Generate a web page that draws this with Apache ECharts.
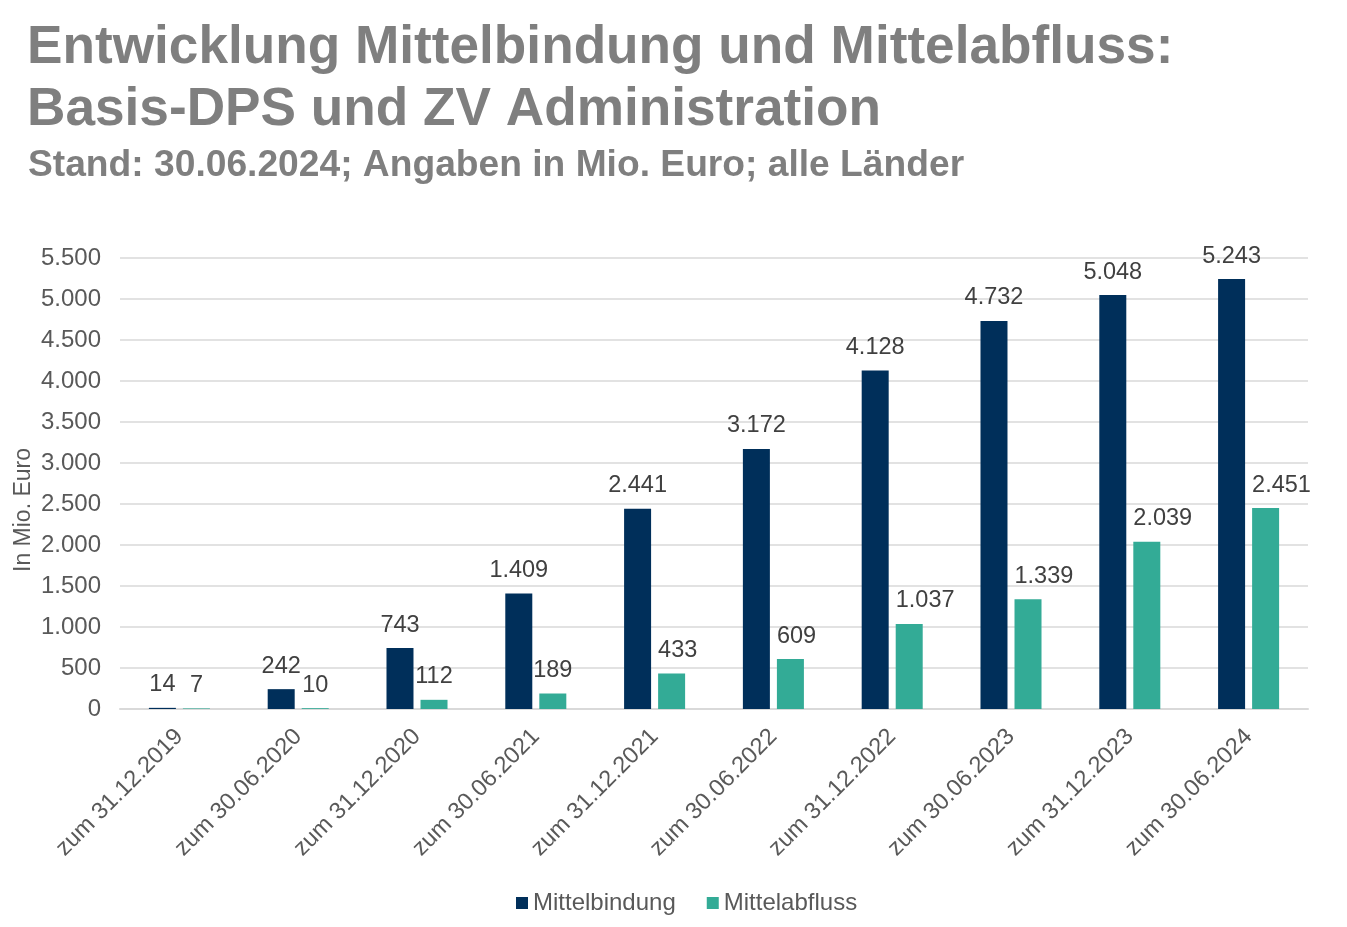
<!DOCTYPE html>
<html><head><meta charset="utf-8">
<script src="https://cdn.jsdelivr.net/npm/echarts@6/dist/echarts.min.js"></script>
<style>html,body{margin:0;padding:0;background:#fff}#c{width:1347px;height:927px}</style>
</head><body><div id="c"></div>
<script>
const categories = ["zum 31.12.2019","zum 30.06.2020","zum 31.12.2020","zum 30.06.2021","zum 31.12.2021","zum 30.06.2022","zum 31.12.2022","zum 30.06.2023","zum 31.12.2023","zum 30.06.2024"];
const mittelbindung = [14, 242, 743, 1409, 2441, 3172, 4128, 4732, 5048, 5243];
const mittelabfluss = [7, 10, 112, 189, 433, 609, 1037, 1339, 2039, 2451];
const seriesNames = ["Mittelbindung", "Mittelabfluss"];
const titleLines = ["Entwicklung Mittelbindung und Mittelabfluss:", "Basis-DPS und ZV Administration"];
const subtitle = "Stand: 30.06.2024; Angaben in Mio. Euro; alle Länder";
const yAxisName = "In Mio. Euro";

const fmt = v => String(v).replace(/\B(?=(\d{3})+(?!\d))/g, ".");
const font = "Liberation Sans, Arial, sans-serif";
const chart = echarts.init(document.getElementById('c'));
const labelCfg = {show: true, position: 'top', distance: 11, color: '#404040', fontSize: 23.5, fontFamily: font, formatter: p => fmt(p.value)};
// in the reference, Mittelabfluss labels from the 5th category on are left-aligned to their bar
const leftAlignedFrom = 4;
const abflussData = mittelabfluss.map((v, i) => i >= leftAlignedFrom
  ? {value: v, label: {align: 'left', offset: [-13.5, 0]}}
  : v);
chart.setOption({
  backgroundColor: '#fff',
  animation: false,
  title: [
    {text: titleLines.join('\n'), left: 22, top: 12, textStyle: {color: '#7f7f7f', fontSize: 53.2, fontWeight: 'bold', fontFamily: font, lineHeight: 62}},
    {text: subtitle, left: 23, top: 142, textStyle: {color: '#7f7f7f', fontSize: 37.2, fontWeight: 'bold', fontFamily: font}}
  ],
  graphic: [{type: 'text', x: 24, y: 510, rotation: Math.PI/2, style: {text: yAxisName, fill: '#595959', fontSize: 23, fontFamily: font, textAlign: 'center', textVerticalAlign: 'middle'}}],
  legend: {bottom: 7, left: 511, itemWidth: 12, itemHeight: 12, itemGap: 31, icon: 'rect', textStyle: {color: '#595959', fontSize: 24, fontFamily: font}, data: seriesNames},
  grid: {left: 120, right: 39, top: 258, bottom: 218, containLabel: false},
  xAxis: {type: 'category', data: categories,
    axisLine: {lineStyle: {color: '#d9d9d9', width: 2}}, axisTick: {show: false},
    axisLabel: {rotate: 45, color: '#595959', fontSize: 23.5, fontFamily: font, margin: 24, interval: 0}},
  yAxis: {type: 'value', min: 0, max: 5500, interval: 500,
    axisLine: {show: false}, axisTick: {show: false},
    splitLine: {lineStyle: {color: '#d9d9d9', width: 1.5}},
    axisLabel: {color: '#595959', fontSize: 24, fontFamily: font, margin: 19, formatter: fmt}},
  series: [
    {name: seriesNames[0], type: 'bar', data: mittelbindung, barWidth: 27, barGap: '26%', itemStyle: {color: '#002F5A'}, label: labelCfg},
    {name: seriesNames[1], type: 'bar', data: abflussData, barWidth: 27, itemStyle: {color: '#33AB96'}, label: labelCfg}
  ]
});
</script></body></html>
